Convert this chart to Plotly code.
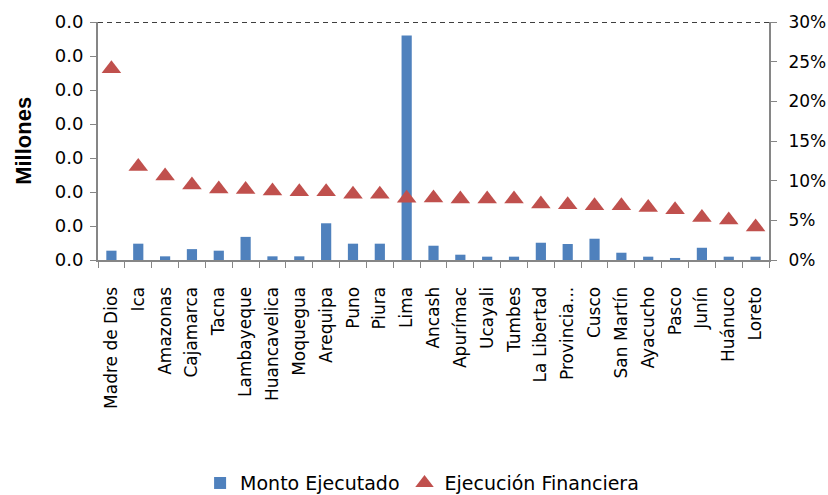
import plotly.graph_objects as go

categories = ["Madre de Dios", "Ica", "Amazonas", "Cajamarca", "Tacna", "Lambayeque",
              "Huancavelica", "Moquegua", "Arequipa", "Puno", "Piura", "Lima",
              "Ancash", "Apurímac", "Ucayali", "Tumbes", "La Libertad", "Provincia...",
              "Cusco", "San Martín", "Ayacucho", "Pasco", "Junín", "Huánuco", "Loreto"]
monto_ejecutado = [0.00137, 0.0024, 0.00054, 0.0016, 0.00137, 0.0034,
                   0.00054, 0.00054, 0.0054, 0.0024, 0.0024, 0.0330,
                   0.0021, 0.00078, 0.00049, 0.00049, 0.00254, 0.00235,
                   0.00313, 0.00107, 0.00049, 0.0003, 0.0018, 0.00049, 0.00049]
ejecucion_financiera = [0.241, 0.118, 0.106, 0.0945, 0.0894, 0.089,
                        0.087, 0.086, 0.086, 0.083, 0.083, 0.0778,
                        0.078, 0.077, 0.077, 0.077, 0.0705, 0.0697,
                        0.0684, 0.0684, 0.0663, 0.0634, 0.0537, 0.0505, 0.0417]

left_ticks = [0, 0.005, 0.01, 0.015, 0.02, 0.025, 0.03, 0.035]
right_ticks = [0, 0.05, 0.10, 0.15, 0.20, 0.25, 0.30]

FONT = "DejaVu Sans"
AXIS_COLOR = "#868686"

fig = go.Figure()
fig.add_trace(go.Bar(
    x=categories, y=monto_ejecutado, name="Monto Ejecutado",
    marker=dict(color="#4F81BD", line=dict(width=0)), width=0.38, yaxis="y",
))
fig.add_trace(go.Scatter(
    x=categories, y=ejecucion_financiera, name="Ejecución Financiera",
    mode="markers", marker=dict(symbol="triangle-up", size=17, color="#C0504D"),
    yaxis="y2",
))

fig.add_shape(type="line", xref="paper", yref="y", x0=0, x1=1,
              y0=left_ticks[-1], y1=left_ticks[-1],
              line=dict(color="black", width=1.3, dash="5px,4px"))

fig.update_layout(
    width=828, height=495,
    margin=dict(l=98, r=59, t=22, b=235, autoexpand=False),
    paper_bgcolor="white", plot_bgcolor="white",
    font=dict(family=FONT, size=16, color="black"),
    showlegend=True,
    legend=dict(orientation="h", x=0.483, xanchor="center",
                yref="container", y=0.024, yanchor="middle",
                font=dict(family=FONT, size=19), itemwidth=30, tracegroupgap=0),
    xaxis=dict(
        type="category", showline=True, linecolor=AXIS_COLOR, linewidth=2,
        ticks="outside", tickson="boundaries", ticklen=6, tickcolor=AXIS_COLOR,
        tickangle=-90, tickfont=dict(family=FONT, size=17), showgrid=False,
        ticklabelstandoff=18, automargin=False,
        range=[-0.5, len(categories) - 0.5],
    ),
    yaxis=dict(
        range=[0, left_ticks[-1]], tickvals=left_ticks, tickformat=".1f",
        showline=True, linecolor=AXIS_COLOR, linewidth=2, ticks="outside",
        ticklen=6, tickcolor=AXIS_COLOR, showgrid=False, zeroline=False,
        tickfont=dict(family=FONT, size=18), ticklabelstandoff=3, automargin=False,
    ),
    yaxis2=dict(
        range=[0, right_ticks[-1]], tickvals=right_ticks, tickformat=".0%",
        overlaying="y", side="right", showline=True, linecolor=AXIS_COLOR,
        linewidth=2, ticks="outside", ticklen=6, tickcolor=AXIS_COLOR,
        showgrid=False, zeroline=False, tickfont=dict(family=FONT, size=17),
        ticklabelstandoff=8, automargin=False,
    ),
    annotations=[dict(text="<b>Millones</b>", xref="paper", yref="paper",
                      x=-0.112, xanchor="center", y=0.5, yanchor="middle",
                      textangle=-90, showarrow=False,
                      font=dict(family="Liberation Sans", size=22, color="black"))],
)

fig.write_html("out.html", config={"displayModeBar": False},
               post_script="document.body.style.margin='0px';")
